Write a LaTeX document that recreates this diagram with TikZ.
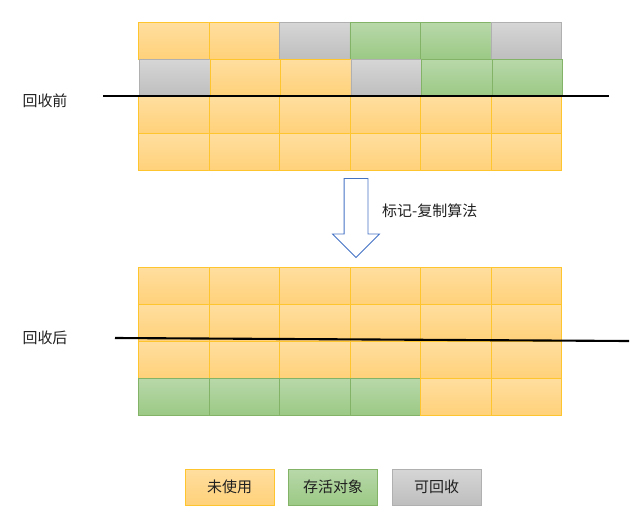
\documentclass[tikz,border=0pt]{standalone}
\usepackage{fontspec}
\setmainfont{Noto Sans CJK SC}
\usetikzlibrary{shapes.arrows}
\definecolor{unused_top}{HTML}{FFDE9F}
\definecolor{unused_bottom}{HTML}{FFD17A}
\definecolor{unused_line}{HTML}{FFC52E}
\definecolor{alive_top}{HTML}{B8D8A9}
\definecolor{alive_bottom}{HTML}{9BC985}
\definecolor{alive_line}{HTML}{82B366}
\definecolor{gray_top}{HTML}{D6D6D6}
\definecolor{gray_bottom}{HTML}{BEBEBE}
\definecolor{gray_line}{HTML}{B0B0B0}
\definecolor{arrow_blue}{HTML}{4472C4}
\definecolor{text_dark}{HTML}{202020}

\begin{document}
\begin{tikzpicture}[
    x=0.03cm, y=-0.03cm,
    cell/.style={draw, line width=0.6pt, inner sep=0pt, anchor=north west,
                 minimum width=2.115cm, minimum height=1.11cm},
    unused/.style={top color=unused_top, bottom color=unused_bottom, draw=unused_line},
    alive/.style={top color=alive_top, bottom color=alive_bottom, draw=alive_line},
    garbage/.style={top color=gray_top, bottom color=gray_bottom, draw=gray_line},
    legend/.style={draw, line width=0.6pt, minimum width=2.67cm, minimum height=1.08cm,
                   font=\fontsize{12.8}{14}\selectfont, text=text_dark},
    label/.style={font=\fontsize{12.8}{14}\selectfont, text=text_dark},
    cut/.style={draw=black, line width=1.8pt}
]
\useasboundingbox (0,0) rectangle (640,526);

%% ---- vor der Sammlung ----
\foreach \s [count=\i] in {unused,unused,garbage,alive,alive,garbage}
    \node[cell,\s] (a1\i) at ({138+(\i-1)*70.5},22) {};
\foreach \s [count=\i] in {garbage,unused,unused,garbage,alive,alive}
    \node[cell,\s] (a2\i) at ({139+(\i-1)*70.5},59) {};
\foreach \r/\y in {3/96, 4/133}
    \foreach \i in {1,...,6}
        \node[cell,unused] (a\r\i) at ({138+(\i-1)*70.5},\y) {};

\coordinate (before_l) at (103,96);
\coordinate (before_r) at (609,96);
\draw[cut] (before_l) -- (before_r);
\node[label] (before) at (45,101) {回收前};

%% ---- Pfeil ----
\node[single arrow, draw=arrow_blue, line width=0.7pt, fill=white,
      shape border rotate=270, minimum height=2.37cm,
      single arrow head extend=0.345cm, single arrow tip angle=90,
      inner sep=0.345cm] (flow) at (356,212) {};
\node[label, anchor=west] (algo) at (378,211) {标记-复制算法};

%% ---- nach der Sammlung ----
\foreach \r/\y in {1/267, 2/304, 3/341}
    \foreach \i in {1,...,6}
        \node[cell,unused] (b\r\i) at ({138+(\i-1)*70.5},\y) {};
\foreach \s [count=\i] in {alive,alive,alive,alive,unused,unused}
    \node[cell,\s] (b4\i) at ({138+(\i-1)*70.5},378) {};

\coordinate (after_l) at (115,338);
\coordinate (after_r) at (629,341);
\draw[cut] (after_l) -- (after_r);
\node[label] (after) at (45,338) {回收后};

%% ---- Legende ----
\node[legend,unused] (leg_unused) at (229.5,487) {未使用};
\node[legend,alive] (leg_alive) at (333,487) {存活对象};
\node[legend,garbage] (leg_garbage) at (436.5,487) {可回收};

\end{tikzpicture}
\end{document}
